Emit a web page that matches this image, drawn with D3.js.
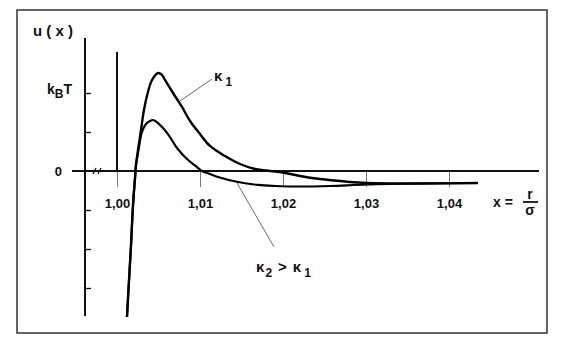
<!DOCTYPE html>
<html><head><meta charset="utf-8">
<script src="https://cdn.jsdelivr.net/npm/d3@7"></script>
<style>
body{margin:0;background:#fff;}
text{font-family:"Liberation Sans",Arial,sans-serif;fill:#111;}
</style></head>
<body>
<svg id="c" width="568" height="347"></svg>
<script>
// ---- data ----
const xTicks = [1.00, 1.01, 1.02, 1.03, 1.04];
const xTickLabels = ["1,00", "1,01", "1,02", "1,03", "1,04"];
const yTicks = [1, 0.5, -0.5, -1, -1.5];
// curve kappa_1 : x = r/sigma, u in units of kBT
const x1 = [1.00120, 1.00145, 1.00169, 1.00193, 1.00217, 1.00229, 1.00253, 1.00289, 1.00325, 1.00373, 1.00422, 1.00494, 1.00542, 1.00578, 1.00675, 1.00783, 1.00880, 1.01000, 1.01120, 1.01301, 1.01482, 1.01663, 1.01843, 1.02000, 1.02205, 1.02446, 1.02747, 1.03012, 1.03651, 1.04349];
const u1 = [-1.872, -1.397, -0.949, -0.436, -0.090, 0.077, 0.269, 0.526, 0.782, 1.013, 1.167, 1.256, 1.231, 1.167, 1.000, 0.821, 0.641, 0.474, 0.321, 0.192, 0.090, 0.026, 0.0, -0.019, -0.064, -0.103, -0.135, -0.154, -0.160, -0.154];
// curve kappa_2 > kappa_1
const x2 = [1.00120, 1.00145, 1.00169, 1.00193, 1.00217, 1.00229, 1.00259, 1.00301, 1.00349, 1.00398, 1.00434, 1.00494, 1.00554, 1.00614, 1.00723, 1.00843, 1.00964, 1.01024, 1.01120, 1.01217, 1.01458, 1.01699, 1.01904, 1.02205, 1.02566, 1.03012, 1.03651, 1.04349];
const u2 = [-1.872, -1.397, -0.949, -0.436, -0.090, 0.077, 0.269, 0.500, 0.603, 0.641, 0.654, 0.615, 0.551, 0.474, 0.295, 0.154, 0.051, 0.0, -0.038, -0.077, -0.141, -0.179, -0.192, -0.199, -0.192, -0.173, -0.160, -0.154];

const svg = d3.select("#c");
const x = d3.scaleLinear().domain([1.00, 1.04]).range([117, 449]);
const y = d3.scaleLinear().domain([0, 1]).range([171, 93]);

// frame
svg.append("rect").attr("x", 17).attr("y", 10).attr("width", 530).attr("height", 323)
  .attr("fill", "none").attr("stroke", "#333").attr("stroke-width", 1.5);

// x tick lines + labels
const gx = svg.append("g").attr("transform", `translate(0,${y(0)})`)
  .call(d3.axisBottom(x).tickValues(xTicks).tickSize(16).tickPadding(12)
    .tickFormat((d, i) => xTickLabels[i]));
gx.select(".domain").remove();
gx.selectAll(".tick line").attr("stroke", "#555").attr("stroke-width", 0.8);
gx.selectAll(".tick text").attr("font-size", 13).attr("font-weight", "bold")
  .attr("font-family", "Liberation Sans, Arial, sans-serif").attr("fill", "#111");

// y axis ticks
const gy = svg.append("g").attr("transform", "translate(85,0)")
  .call(d3.axisRight(y).tickValues(yTicks).tickSize(6).tickFormat(""));
gy.select(".domain").remove();
gy.selectAll(".tick line").attr("stroke", "#111").attr("stroke-width", 1.3);

// y axis line
svg.append("line").attr("x1", 85).attr("x2", 85).attr("y1", 38).attr("y2", 316)
  .attr("stroke", "#111").attr("stroke-width", 2);
// zero line
svg.append("line").attr("x1", 72).attr("x2", 539).attr("y1", y(0)).attr("y2", y(0))
  .attr("stroke", "#111").attr("stroke-width", 2);
// axis break marks
[93, 98].forEach(bx => {
  svg.append("line").attr("x1", bx).attr("y1", y(0) + 3).attr("x2", bx + 3).attr("y2", y(0) - 3)
    .attr("stroke", "#111").attr("stroke-width", 1.3);
});
// vertical line at x = 1.00
svg.append("line").attr("x1", x(1.00)).attr("x2", x(1.00)).attr("y1", 52).attr("y2", y(0))
  .attr("stroke", "#111").attr("stroke-width", 2);

// curves
const line = d3.line().x(d => x(d[0])).y(d => y(d[1])).curve(d3.curveCatmullRom.alpha(0.5));
svg.append("path").datum(x1.map((v, i) => [v, u1[i]])).attr("d", line)
  .attr("fill", "none").attr("stroke", "#000").attr("stroke-width", 2.4);
svg.append("path").datum(x2.map((v, i) => [v, u2[i]])).attr("d", line)
  .attr("fill", "none").attr("stroke", "#000").attr("stroke-width", 2.2);

// leader lines
svg.append("line").attr("x1", 180).attr("y1", 101).attr("x2", 212).attr("y2", 79)
  .attr("stroke", "#444").attr("stroke-width", 0.8);
svg.append("line").attr("x1", 237).attr("y1", 183).attr("x2", 274).attr("y2", 247)
  .attr("stroke", "#444").attr("stroke-width", 0.8);

// texts
svg.append("text").attr("x", 33).attr("y", 36).attr("font-size", 15).attr("font-weight", "bold")
  .text("u ( x )");
const kb = svg.append("text").attr("x", 47).attr("y", y(1) + 1).attr("font-size", 14).attr("font-weight", "bold");
kb.append("tspan").text("k");
kb.append("tspan").attr("font-size", 12).attr("dy", 4).text("B");
kb.append("tspan").attr("dy", -4).text("T");
svg.append("text").attr("x", 62).attr("y", y(0) + 5).attr("font-size", 13).attr("font-weight", "bold")
  .attr("text-anchor", "end").text("0");

const k1 = svg.append("text").attr("x", 214).attr("y", 81).attr("font-size", 15).attr("font-weight", "bold");
k1.append("tspan").text("κ");
k1.append("tspan").attr("font-size", 12).attr("dy", 5).attr("dx", 3).text("1");

const k2 = svg.append("text").attr("x", 256).attr("y", 272).attr("font-size", 15).attr("font-weight", "bold");
k2.append("tspan").text("κ");
k2.append("tspan").attr("font-size", 12).attr("dy", 5).attr("dx", 1).text("2");
k2.append("tspan").attr("dy", -5).attr("dx", 6).text(">");
k2.append("tspan").attr("dx", 6).text("κ");
k2.append("tspan").attr("font-size", 12).attr("dy", 5).attr("dx", 3).text("1");

// x = r / sigma
svg.append("text").attr("x", 493).attr("y", 207).attr("font-size", 14).attr("font-weight", "bold").text("x =");
svg.append("text").attr("x", 530).attr("y", 199).attr("font-size", 14).attr("font-weight", "bold")
  .attr("text-anchor", "middle").text("r");
svg.append("line").attr("x1", 523).attr("x2", 538).attr("y1", 202).attr("y2", 202)
  .attr("stroke", "#111").attr("stroke-width", 1.8);
svg.append("text").attr("x", 530).attr("y", 215).attr("font-size", 14).attr("font-weight", "bold")
  .attr("text-anchor", "middle").text("σ");
</script>
</body></html>
